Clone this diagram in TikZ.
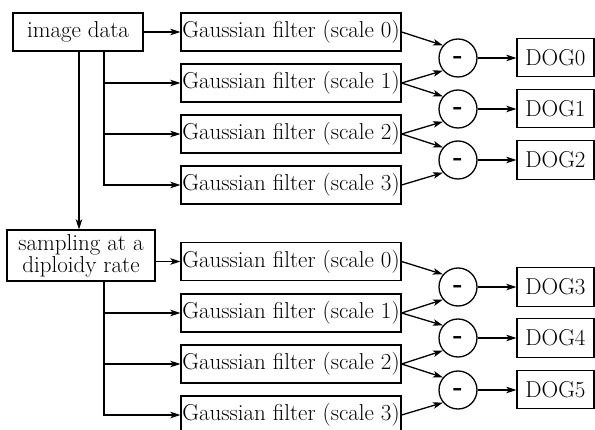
\documentclass[tikz,border=0pt]{standalone}
\usepackage{fontspec}
\usetikzlibrary{arrows.meta}
\newcommand{\minussign}{\raisebox{-0.25em}[0pt][0pt]{\fontsize{26}{26}\selectfont\textbf{-}}}
\begin{document}
\begin{tikzpicture}[x=1pt,y=-1pt,
  every node/.style={font=\fontsize{23}{22}\selectfont},
  box/.style={draw,line width=1.3pt,inner sep=0pt,rectangle},
  filt/.style={box,minimum width=220pt,minimum height=38pt},
  dog/.style={box,minimum width=77pt,minimum height=38.5pt},
  sub/.style={draw,line width=1.3pt,circle,minimum size=38pt,inner sep=0pt},
  conn/.style={line width=1.3pt,-{Stealth[length=10pt,width=6.5pt,inset=2.5pt]}}]
\useasboundingbox (0,0) rectangle (595,430);
% top group
\node[box,minimum width=130pt,minimum height=38pt] (img) at (78,32) {image data};
\node[filt] (f0) at (291,32) {Gaussian filter (scale 0)};
\node[filt] (f1) at (291,83) {Gaussian filter (scale 1)};
\node[filt] (f2) at (291,134) {Gaussian filter (scale 2)};
\node[filt] (f3) at (291,185) {Gaussian filter (scale 3)};
\node[sub] (c0) at (458,58) {\minussign};
\node[sub] (c1) at (458,109) {\minussign};
\node[sub] (c2) at (458,160) {\minussign};
\node[dog] (d0) at (555.5,57.5) {DOG0};
\node[dog] (d1) at (555.5,108.5) {DOG1};
\node[dog] (d2) at (555.5,160) {DOG2};
% bottom group
\node[box,minimum width=148pt,minimum height=51pt,align=center] (samp) at (81,255.5) {sampling at a\\diploidy rate};
\node[filt] (g0) at (291,261.5) {Gaussian filter (scale 0)};
\node[filt] (g1) at (291,313) {Gaussian filter (scale 1)};
\node[filt] (g2) at (291,364) {Gaussian filter (scale 2)};
\node[filt] (g3) at (291,415) {Gaussian filter (scale 3)};
\node[sub] (e0) at (458,287) {\minussign};
\node[sub] (e1) at (458,338) {\minussign};
\node[sub] (e2) at (458,390) {\minussign};
\node[dog] (d3) at (555.5,287) {DOG3};
\node[dog] (d4) at (555.5,338) {DOG4};
\node[dog] (d5) at (555.5,389.5) {DOG5};
% branch points
\coordinate (ib) at (104,51);
\coordinate (sb) at (104,281);
% connectors top
\draw[conn] (img.east) -- (f0.west);
\draw[conn] (ib) |- (f1.west);
\draw[conn] (ib) |- (f2.west);
\draw[conn] (ib) |- (f3.west);
\draw[conn] ([xshift=1pt]img.south) -- ([xshift=1pt]img.south |- samp.north);
\draw[conn] (f0.east) -- (c0.140);
\draw[conn] (f1.east) -- (c0.220);
\draw[conn] (f1.east) -- (c1.140);
\draw[conn] (f2.east) -- (c1.220);
\draw[conn] (f2.east) -- (c2.140);
\draw[conn] (f3.east) -- (c2.220);
\draw[conn] (c0.east) -- (c0.east -| d0.west);
\draw[conn] (c1.east) -- (c1.east -| d1.west);
\draw[conn] (c2.east) -- (d2.west);
% connectors bottom
\draw[conn] (samp.east |- g0) -- (g0.west);
\draw[conn] (sb) |- (g1.west);
\draw[conn] (sb) |- (g2.west);
\draw[conn] (sb) |- (g3.west);
\draw[conn] (g0.east) -- (e0.140);
\draw[conn] (g1.east) -- (e0.220);
\draw[conn] (g1.east) -- (e1.140);
\draw[conn] (g2.east) -- (e1.220);
\draw[conn] (g2.east) -- (e2.140);
\draw[conn] (g3.east) -- (e2.220);
\draw[conn] (e0.east) -- (d3.west);
\draw[conn] (e1.east) -- (d4.west);
\draw[conn] (e2.east) -- (e2.east -| d5.west);
\end{tikzpicture}
\end{document}
